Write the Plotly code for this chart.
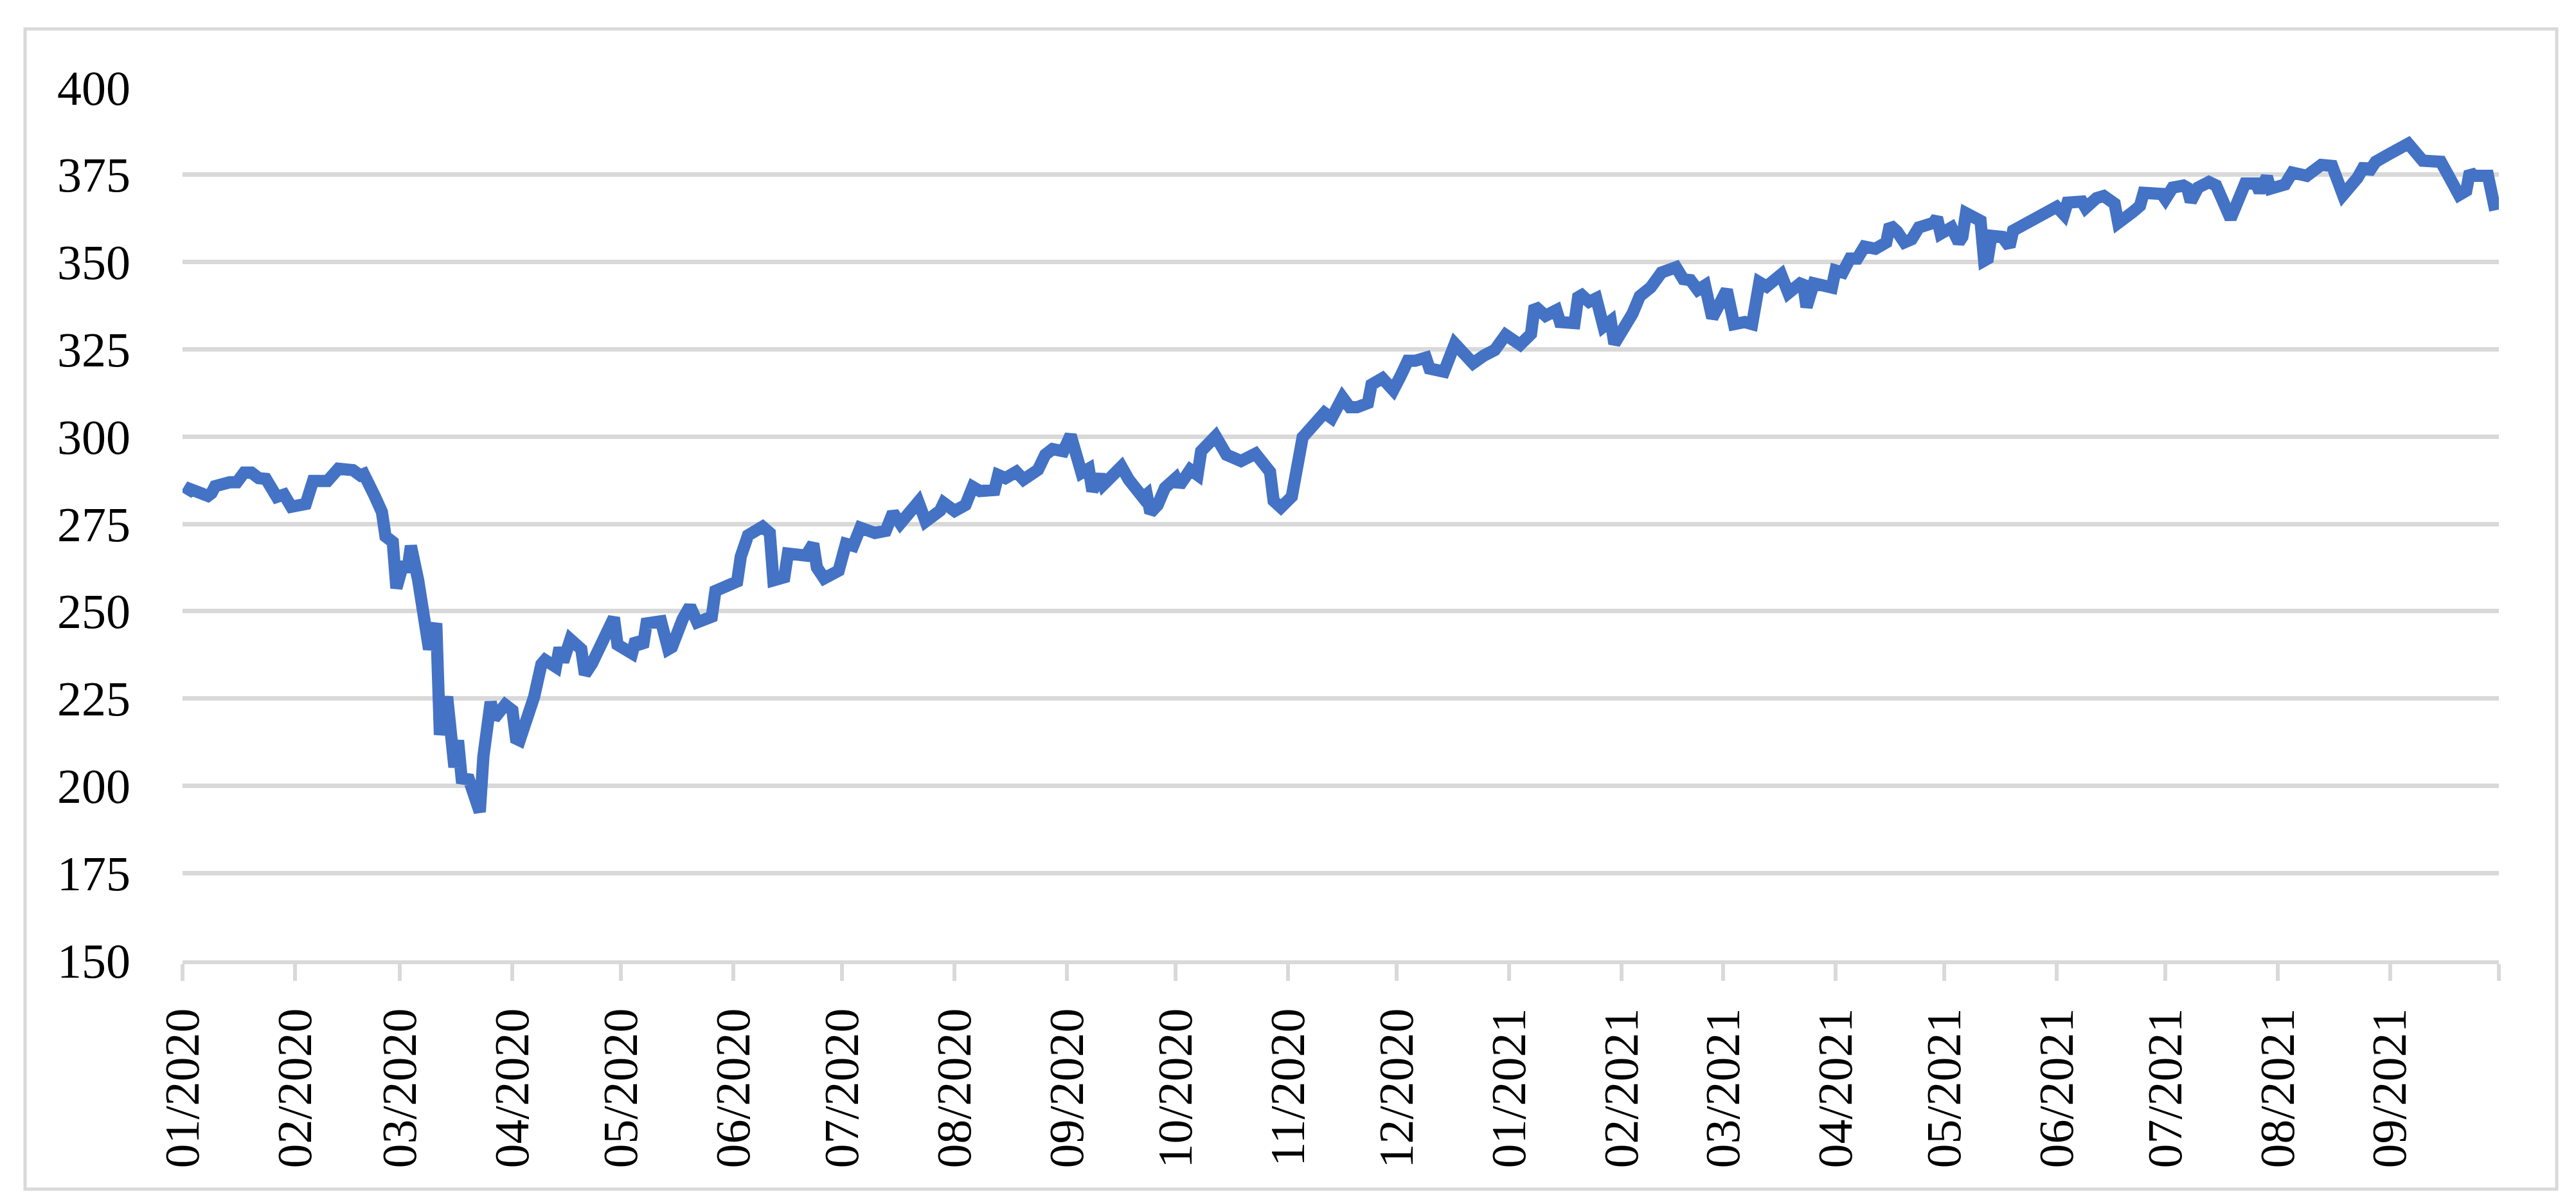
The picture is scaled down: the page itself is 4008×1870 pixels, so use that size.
import plotly.graph_objects as go

# ---- data ----
dates_2020 = [
    "2020-01-02", "2020-01-03", "2020-01-06", "2020-01-08", "2020-01-09", "2020-01-10",
    "2020-01-14", "2020-01-16", "2020-01-18", "2020-01-20", "2020-01-22", "2020-01-24",
    "2020-01-27", "2020-01-29", "2020-01-31", "2020-02-04", "2020-02-06", "2020-02-08",
    "2020-02-10", "2020-02-13", "2020-02-17", "2020-02-19", "2020-02-20", "2020-02-23",
    "2020-02-25", "2020-02-26", "2020-02-28", "2020-02-29", "2020-03-01", "2020-03-02",
    "2020-03-03", "2020-03-04", "2020-03-06", "2020-03-07", "2020-03-09", "2020-03-11",
    "2020-03-12", "2020-03-14", "2020-03-16", "2020-03-17", "2020-03-18", "2020-03-20",
    "2020-03-23", "2020-03-24", "2020-03-26", "2020-03-27", "2020-03-30", "2020-04-01",
    "2020-04-02", "2020-04-03", "2020-04-06", "2020-04-07", "2020-04-09", "2020-04-10",
    "2020-04-13", "2020-04-14", "2020-04-15", "2020-04-17", "2020-04-20", "2020-04-21",
    "2020-04-23", "2020-04-27", "2020-04-29", "2020-04-30", "2020-05-04", "2020-05-05",
    "2020-05-07", "2020-05-08", "2020-05-12", "2020-05-14", "2020-05-15", "2020-05-18",
    "2020-05-20", "2020-05-22", "2020-05-26", "2020-05-27", "2020-05-29", "2020-06-02",
    "2020-06-03", "2020-06-05", "2020-06-09", "2020-06-11", "2020-06-12", "2020-06-15",
    "2020-06-16", "2020-06-18", "2020-06-21", "2020-06-23", "2020-06-24", "2020-06-26",
    "2020-06-30", "2020-07-02", "2020-07-04", "2020-07-06", "2020-07-10", "2020-07-13",
    "2020-07-15", "2020-07-17", "2020-07-20", "2020-07-22", "2020-07-24", "2020-07-26",
    "2020-07-28", "2020-07-29", "2020-08-01", "2020-08-04", "2020-08-06", "2020-08-08",
    "2020-08-12", "2020-08-13", "2020-08-15", "2020-08-18", "2020-08-20", "2020-08-24",
    "2020-08-26", "2020-08-28", "2020-08-31", "2020-09-02", "2020-09-04", "2020-09-05",
    "2020-09-07", "2020-09-08", "2020-09-10", "2020-09-11", "2020-09-16", "2020-09-18",
    "2020-09-22", "2020-09-23", "2020-09-24", "2020-09-26", "2020-09-28", "2020-10-01",
    "2020-10-02", "2020-10-05", "2020-10-07", "2020-10-08", "2020-10-12", "2020-10-15",
    "2020-10-19", "2020-10-21", "2020-10-23", "2020-10-27", "2020-10-28", "2020-10-30",
    "2020-11-02", "2020-11-05", "2020-11-09", "2020-11-11", "2020-11-13", "2020-11-16",
    "2020-11-18", "2020-11-20", "2020-11-23", "2020-11-24", "2020-11-27", "2020-11-30",
    "2020-12-02", "2020-12-04", "2020-12-06", "2020-12-09", "2020-12-10", "2020-12-14",
    "2020-12-17", "2020-12-22", "2020-12-25", "2020-12-28", "2020-12-31",
]
values_2020 = [
    283.3, 285.0, 283.8, 283.0, 283.8, 285.8,
    286.9, 286.9, 289.7, 289.7, 288.1, 287.9,
    282.7, 283.4, 279.9, 280.7, 287.3, 286.9,
    287.3, 290.8, 290.4, 288.9, 289.3, 283.0,
    278.4, 271.4, 269.8, 256.6, 261.3, 264.0,
    261.3, 268.7, 258.9, 251.2, 239.1, 246.5,
    214.6, 225.5, 205.3, 213.0, 202.1, 201.8,
    192.5, 208.4, 224.0, 219.3, 223.2, 221.6,
    213.5, 213.0, 221.6, 225.5, 234.8, 236.0,
    234.0, 239.5, 235.5, 241.9, 239.1, 231.9,
    235.1, 242.8, 248.1, 240.4, 237.9, 241.9,
    239.8, 246.5, 247.1, 239.1, 239.7, 247.8,
    251.4, 246.8, 248.4, 255.8, 257.0, 258.5,
    265.6, 271.7, 274.2, 272.4, 258.8, 259.7,
    266.5, 266.2, 265.9, 269.3, 262.5, 259.4,
    261.6, 269.3, 268.7, 273.9, 272.4, 273.0,
    278.2, 275.1, 279.1, 281.3, 275.7, 277.6,
    278.8, 281.0, 278.7, 280.4, 285.6, 284.4,
    284.7, 289.0, 288.1, 289.9, 287.7, 290.5,
    294.8, 296.4, 295.8, 300.4, 292.7, 289.6,
    290.8, 284.4, 289.0, 286.2, 291.4, 287.7,
    282.5, 283.4, 278.2, 280.4, 285.3, 288.1,
    285.9, 290.5, 289.0, 295.8, 300.1, 294.8,
    293.0, 293.9, 295.1, 289.9, 281.6, 279.7,
    282.8, 299.8, 304.1, 306.8, 305.3, 311.2,
    308.4, 308.4, 309.6, 314.9, 316.7, 313.3,
    317.3, 321.7, 321.7, 322.6, 319.5, 318.6,
    326.6, 321.0, 323.2, 324.8, 329.1,
]

dates_2021 = [
    "2021-01-04", "2021-01-07", "2021-01-08", "2021-01-11", "2021-01-14", "2021-01-15",
    "2021-01-19", "2021-01-20", "2021-01-21", "2021-01-23", "2021-01-25", "2021-01-27",
    "2021-01-29", "2021-01-30", "2021-02-02", "2021-02-04", "2021-02-06", "2021-02-09",
    "2021-02-12", "2021-02-16", "2021-02-18", "2021-02-20", "2021-02-22", "2021-02-24",
    "2021-02-26", "2021-03-01", "2021-03-02", "2021-03-04", "2021-03-07", "2021-03-09",
    "2021-03-11", "2021-03-13", "2021-03-17", "2021-03-19", "2021-03-23", "2021-03-24",
    "2021-03-26", "2021-03-31", "2021-04-01", "2021-04-03", "2021-04-05", "2021-04-07",
    "2021-04-09", "2021-04-12", "2021-04-15", "2021-04-16", "2021-04-18", "2021-04-20",
    "2021-04-22", "2021-04-24", "2021-04-27", "2021-04-28", "2021-04-29", "2021-04-30",
    "2021-05-03", "2021-05-05", "2021-05-06", "2021-05-07", "2021-05-11", "2021-05-12",
    "2021-05-13", "2021-05-14", "2021-05-17", "2021-05-19", "2021-05-20", "2021-05-24",
    "2021-05-28", "2021-05-30", "2021-06-01", "2021-06-03", "2021-06-04", "2021-06-08",
    "2021-06-09", "2021-06-12", "2021-06-14", "2021-06-17", "2021-06-18", "2021-06-22",
    "2021-06-24", "2021-06-25", "2021-06-30", "2021-07-01", "2021-07-03", "2021-07-06",
    "2021-07-07", "2021-07-08", "2021-07-10", "2021-07-13", "2021-07-15", "2021-07-19",
    "2021-07-21", "2021-07-23", "2021-07-26", "2021-07-27", "2021-07-29", "2021-07-30",
    "2021-08-03", "2021-08-05", "2021-08-09", "2021-08-13", "2021-08-16", "2021-08-19",
    "2021-08-23", "2021-08-25", "2021-08-26", "2021-08-28", "2021-08-31", "2021-09-03",
    "2021-09-06", "2021-09-10", "2021-09-13", "2021-09-15", "2021-09-20", "2021-09-22",
    "2021-09-23", "2021-09-24", "2021-09-28", "2021-09-29", "2021-09-30",
]
values_2021 = [
    326.3, 329.4, 337.4, 334.6, 336.2, 332.8,
    332.5, 339.9, 340.5, 338.6, 339.6, 331.5,
    333.1, 326.6, 331.5, 335.2, 340.2, 342.7,
    347.0, 348.5, 345.1, 344.8, 342.0, 343.3,
    334.0, 341.4, 342.0, 332.2, 332.8, 332.2,
    344.2, 343.0, 346.4, 341.1, 344.5, 337.1,
    343.9, 342.7, 347.6, 347.0, 351.0, 351.0,
    354.4, 353.8, 355.6, 360.6, 358.7, 355.6,
    356.5, 359.9, 361.2, 361.2, 362.7, 358.1,
    359.9, 355.6, 357.2, 364.0, 361.8, 350.4,
    351.0, 357.5, 357.2, 354.4, 359.0, 361.2,
    364.0, 364.3, 365.8, 363.6, 367.0, 367.3,
    365.5, 368.3, 368.9, 366.7, 361.2, 364.3,
    366.1, 369.8, 369.5, 368.0, 371.3, 371.9,
    371.3, 367.3, 371.3, 372.9, 371.9, 362.4,
    368.6, 372.5, 372.5, 370.1, 374.4, 371.0,
    372.2, 375.6, 374.7, 377.8, 377.5, 369.2,
    374.1, 377.8, 375.6, 378.7, 380.5, 382.4,
    383.9, 379.0, 378.4, 378.7, 369.2, 370.4,
    375.9, 374.7, 374.7, 367.3, 364.8,
]

tick_dates = [
    "2020-01-01", "2020-02-01", "2020-03-01", "2020-04-01", "2020-05-01", "2020-06-01",
    "2020-07-01", "2020-08-01", "2020-09-01", "2020-10-01", "2020-11-01", "2020-12-01",
    "2021-01-01", "2021-02-01", "2021-03-01", "2021-04-01", "2021-05-01", "2021-06-01",
    "2021-07-01", "2021-08-01", "2021-09-01", "2021-10-01",
]
tick_labels = [
    "01/2020", "02/2020", "03/2020", "04/2020", "05/2020", "06/2020",
    "07/2020", "08/2020", "09/2020", "10/2020", "11/2020", "12/2020",
    "01/2021", "02/2021", "03/2021", "04/2021", "05/2021", "06/2021",
    "07/2021", "08/2021", "09/2021", "",
]
y_ticks = [150, 175, 200, 225, 250, 275, 300, 325, 350, 375, 400]

# ---- figure ----
W, H = 4008, 1870
L, R, T, B = 276, 128, 128, 384
pw, ph = W - L - R, H - T - B

GRID = "#D9D9D9"
FONT = "Liberation Serif, Times New Roman, serif"

fig = go.Figure()
fig.add_trace(go.Scatter(
    x=dates_2020 + dates_2021,
    y=values_2020 + values_2021,
    mode="lines",
    line=dict(color="#4472C4", width=19),
    hoverinfo="skip",
    showlegend=False,
))

# outer chart border
bx0, bx1, by0, by1 = 31, 3970, 37, 1842
fig.add_shape(
    type="rect", xref="paper", yref="paper",
    x0=(bx0 - L) / pw, x1=(bx1 - L) / pw,
    y0=(H - B - by1) / ph, y1=(H - B - by0) / ph,
    line=dict(color=GRID, width=5), fillcolor="rgba(0,0,0,0)", layer="below",
)

fig.update_layout(
    width=W, height=H,
    margin=dict(l=L, r=R, t=T, b=B, pad=0),
    paper_bgcolor="white", plot_bgcolor="white",
    font=dict(family=FONT, color="black", size=76),
    showlegend=False,
)
fig.update_xaxes(
    type="date",
    range=[tick_dates[0], tick_dates[-1]],
    tickmode="array", tickvals=tick_dates, ticktext=tick_labels,
    tickangle=-90,
    tickfont=dict(family=FONT, size=76, color="black"),
    showgrid=False, zeroline=False,
    showline=True, linecolor=GRID, linewidth=6,
    ticks="outside", ticklen=26, tickwidth=6, tickcolor=GRID,
    ticklabelstandoff=12,
)
fig.update_yaxes(
    range=[150, 400],
    tickmode="array", tickvals=y_ticks,
    tickfont=dict(family=FONT, size=76, color="black"),
    showgrid=True, gridcolor=GRID, gridwidth=7,
    zeroline=False, showline=False, ticks="",
    ticklabelstandoff=80,
)

fig.write_html("out.html")
